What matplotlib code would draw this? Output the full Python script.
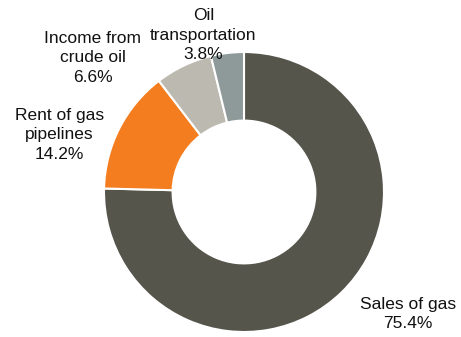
import matplotlib.pyplot as plt

plt.rcParams["font.family"] = ["Liberation Sans", "DejaVu Sans"]

# ---- Data ----
labels = ["Sales of gas", "Rent of gas\npipelines", "Income from\ncrude oil", "Oil\ntransportation"]
shares = [75.4, 14.2, 6.6, 3.8]
colors = ["#55554b", "#f47d20", "#bcb9b0", "#8e9a9a"]

# label anchor points (data units, pie radius = 1)
label_xy = [(1.17, -0.87), (-1.32, 0.41), (-1.08, 0.96), (-0.29, 1.12)]

fig = plt.figure(figsize=(4.61, 3.37), dpi=100)
ax = fig.add_axes([0, 0, 1, 1])

ax.pie(shares, colors=colors, startangle=90, counterclock=False, radius=1,
       wedgeprops=dict(width=0.49, edgecolor="white", linewidth=1.5))

for lab, val, (x, y) in zip(labels, shares, label_xy):
    ax.text(x, y, f"{lab}\n{val:.1f}%", ha="center", va="center",
            fontsize=12.5, color="#111111", linespacing=1.38)

# place the pie: centre at (244, 192) px, radius 140 px
cx, cy, r = 244, 192, 140
ax.set_xlim(-cx / r, (461 - cx) / r)
ax.set_ylim(-(337 - cy) / r, cy / r)
ax.set_aspect("auto")
ax.axis("off")

plt.savefig("out.png", dpi=100)
plt.close()
